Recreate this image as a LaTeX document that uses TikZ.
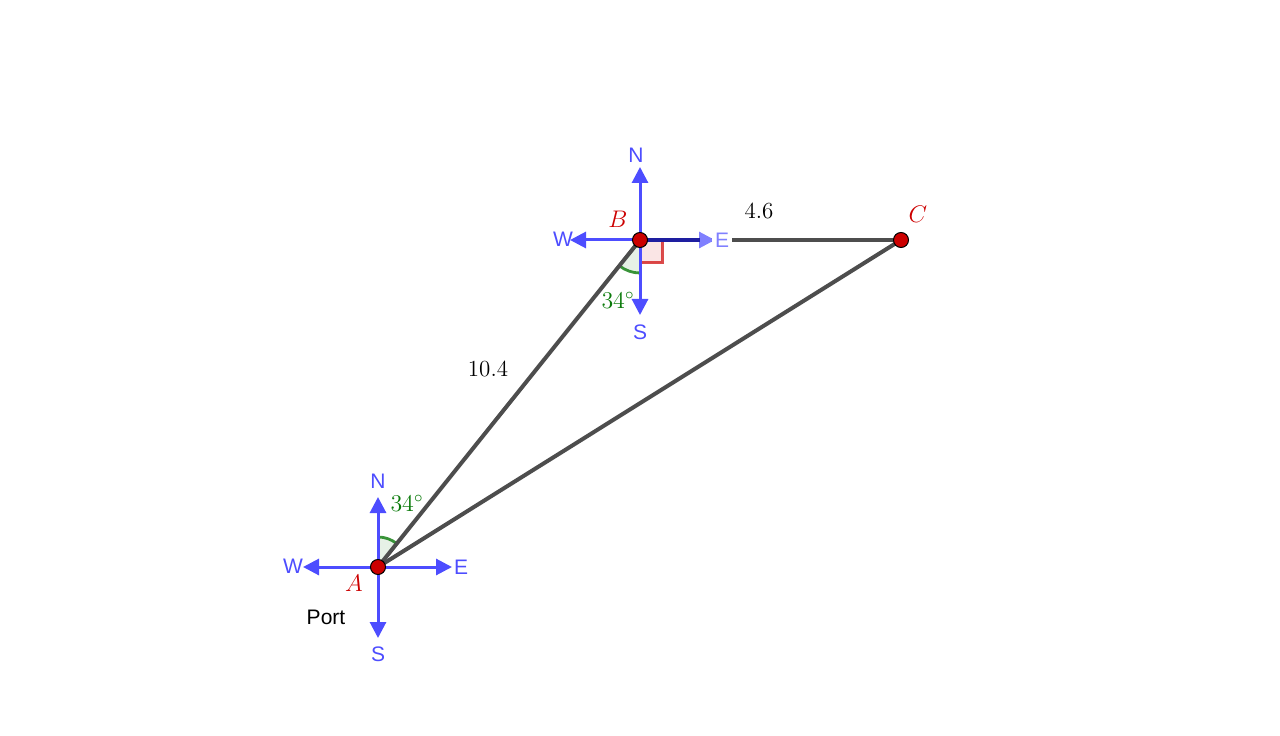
\documentclass[tikz,border=0pt]{standalone}
\usepackage{fontspec}
\newfontfamily\arialf{Liberation Sans}
\usetikzlibrary{arrows.meta}
\definecolor{ggblue}{HTML}{4D4DFF}
\definecolor{gglight}{HTML}{8080FF}
\definecolor{ggnavy}{HTML}{1E1EA0}
\definecolor{gggray}{HTML}{4D4D4D}
\definecolor{ggred}{HTML}{CC0000}
\definecolor{gggreen}{HTML}{0A7A0A}
\begin{document}
\begin{tikzpicture}[x=0.5pt,y=0.5pt,
  seg/.style={draw=gggray,line width=2pt},
  compass/.style={draw=ggblue,line width=1.5pt,-{Triangle[length=8pt,width=8pt]}},
  dirlab/.style={font=\arialf\fontsize{10.5}{12}\selectfont,text=ggblue,inner sep=0pt},
  pt/.style={circle,fill=ggred,draw=black,line width=0.5pt,minimum size=7.5pt,inner sep=0pt},
  ptlab/.style={font=\fontsize{12}{14}\selectfont,text=ggred,inner sep=0pt},
  numlab/.style={font=\fontsize{11.5}{14}\selectfont,inner sep=0pt},
  anglab/.style={font=\fontsize{11.5}{14}\selectfont,text=gggreen,inner sep=0pt},
  angarc/.style={gggreen,line width=1.4pt,opacity=0.8}]
\useasboundingbox (0,0) rectangle (1280,735);
% points
\coordinate (A) at (378,168);
\coordinate (B) at (640,495);
\coordinate (C) at (901,495);
% compass tips at A
\coordinate (AN) at (378,238);
\coordinate (AS) at (378,97);
\coordinate (AW) at (303,168);
\coordinate (AE) at (452,168);
% compass tips at B
\coordinate (BN) at (640,568);
\coordinate (BS) at (640,420);
\coordinate (BW) at (570,495);
\coordinate (BE) at (715,495);
\coordinate (BEs) at (700,495);
% angle arcs
\fill[gggreen,opacity=0.1] (A) -- ++(51.3:30) arc[start angle=51.3,end angle=90,radius=30] -- cycle;
\draw[angarc] (A) ++(51.3:30) arc[start angle=51.3,end angle=90,radius=30];
\fill[gggreen,opacity=0.1] (B) -- ++(231.3:33) arc[start angle=231.3,end angle=270,radius=33] -- cycle;
\draw[angarc] (B) ++(231.3:33) arc[start angle=231.3,end angle=270,radius=33];
% right angle
\filldraw[fill=ggred,fill opacity=0.1,draw=ggred,draw opacity=0.7,line width=1.5pt] (B) rectangle ++(22,-23);
% compass arrows
\draw[compass] (A) -- (AN);
\draw[compass] (A) -- (AS);
\draw[compass] (A) -- (AW);
\draw[compass] (A) -- (AE);
\draw[compass] (B) -- (BN);
\draw[compass] (B) -- (BS);
\draw[compass] (B) -- (BW);
% segments
\draw[seg] (A) -- (B);
\draw[seg] (B) -- (C);
\draw[seg] (A) -- (C);
\draw[compass,draw=gglight] (B) -- (BE);
\draw[draw=ggnavy,line width=2pt] (B) -- (BEs);
% direction labels
\node[dirlab] (lAN) at (378,254) {N};
\node[dirlab] (lAS) at (378,81) {S};
\node[dirlab] (lAW) at (293,169) {W};
\node[dirlab] (lAE) at (461,168) {E};
\node[dirlab] (lBN) at (636,580) {N};
\node[dirlab] (lBS) at (640,403) {S};
\node[dirlab] (lBW) at (563,496) {W};
\node[dirlab,text=gglight,fill=white,inner xsep=1.5pt] (lBE) at (722,495) {E};
\node[font=\arialf\fontsize{10.5}{12}\selectfont,inner sep=0pt] (port) at (326,118) {Port};
% points
\node[pt] (pA) at (A) {};
\node[pt] (pB) at (B) {};
\node[pt] (pC) at (C) {};
\node[ptlab] (lA) at (354,152) {$A$};
\node[ptlab] (lB) at (618,516) {$B$};
\node[ptlab] (lC) at (918,521) {$C$};
% measures
\node[numlab] (l104) at (488,366) {10.4};
\node[numlab] (l46) at (759,524) {4.6};
\node[anglab] (angA) at (407,232) {$34^\circ$};
\node[anglab] (angB) at (618,435) {$34^\circ$};
\end{tikzpicture}
\end{document}
